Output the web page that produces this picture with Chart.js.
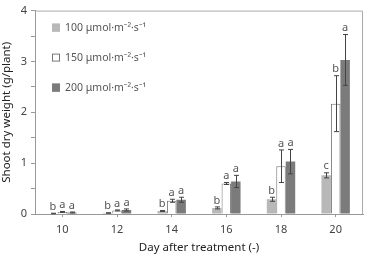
<!DOCTYPE html>
<html>
<head>
<meta charset="utf-8">
<script src="https://cdn.jsdelivr.net/npm/chart.js@4"></script>
<style>
  html, body { margin: 0; padding: 0; background: #fff; }
  #wrap { width: 365px; height: 255px; }
</style>
</head>
<body>
<div id="wrap"><canvas id="growthChart" width="365" height="255"></canvas></div>
<script>
const days = ['10', '12', '14', '16', '18', '20'];
const seriesNames = ['100 μmol·m⁻²·s⁻¹', '150 μmol·m⁻²·s⁻¹', '200 μmol·m⁻²·s⁻¹'];
const ppfd100 = [0.01, 0.02, 0.06, 0.12, 0.29, 0.76];
const ppfd150 = [0.04, 0.07, 0.26, 0.60, 0.94, 2.17];
const ppfd200 = [0.03, 0.08, 0.28, 0.64, 1.03, 3.03];
const err100 = [0.005, 0.005, 0.01, 0.02, 0.04, 0.05];
const err150 = [0.01, 0.01, 0.03, 0.02, 0.32, 0.55];
const err200 = [0.01, 0.02, 0.05, 0.12, 0.24, 0.50];
const letters100 = ['b', 'b', 'b', 'b', 'b', 'c'];
const letters150 = ['a', 'a', 'a', 'a', 'a', 'b'];
const letters200 = ['a', 'a', 'a', 'a', 'a', 'a'];

const fillColors = ['#b8b8b8', '#ffffff', '#7b7b7b'];
const edgeColors = ['#b8b8b8', '#777777', '#7b7b7b'];
const errs = [err100, err150, err200];
const letters = [letters100, letters150, letters200];

const txt = '#444';
const font = "'Noto Sans', 'DejaVu Sans', sans-serif";

// frame, error bars, significance letters, inline legend
const extras = {
  id: 'extras',
  afterDatasetsDraw(chart) {
    const ctx = chart.ctx;
    const a = chart.chartArea;
    const y = chart.scales.y;
    ctx.save();
    ctx.strokeStyle = '#aaaaaa';
    ctx.lineWidth = 1;
    ctx.beginPath();
    ctx.moveTo(a.left, a.top + 0.5);
    ctx.lineTo(a.right - 0.5, a.top + 0.5);
    ctx.lineTo(a.right - 0.5, a.bottom);
    ctx.stroke();

    chart.data.datasets.forEach((ds, i) => {
      const meta = chart.getDatasetMeta(i);
      meta.data.forEach((bar, j) => {
        const v = ds.data[j];
        const e = errs[i][j];
        const x = Math.round(bar.x) + 0.5;
        const yt = y.getPixelForValue(v + e);
        const yb = y.getPixelForValue(Math.max(v - e, 0));
        ctx.strokeStyle = '#444';
        ctx.beginPath();
        ctx.moveTo(x, yt); ctx.lineTo(x, yb);
        ctx.moveTo(x - 2.5, yt); ctx.lineTo(x + 2.5, yt);
        ctx.moveTo(x - 2.5, yb); ctx.lineTo(x + 2.5, yb);
        ctx.stroke();
        ctx.fillStyle = '#555';
        ctx.font = '11px ' + font;
        ctx.textAlign = 'center';
        ctx.textBaseline = 'bottom';
        ctx.fillText(letters[i][j], bar.x, yt - 1);
      });
    });

    ctx.font = '10.5px ' + font;
    ctx.textAlign = 'left';
    ctx.textBaseline = 'middle';
    seriesNames.forEach((name, i) => {
      const ly = a.top + 17 + i * 30;
      ctx.fillStyle = fillColors[i];
      ctx.fillRect(a.left + 17, ly - 4, 8, 8);
      ctx.strokeStyle = edgeColors[i];
      ctx.strokeRect(a.left + 17.5, ly - 3.5, 7, 7);
      ctx.fillStyle = '#555';
      ctx.fillText(name, a.left + 30, ly);
    });
    ctx.restore();
  }
};

const ctx = document.getElementById('growthChart').getContext('2d');
new Chart(ctx, {
  type: 'bar',
  data: {
    labels: days,
    datasets: [ppfd100, ppfd150, ppfd200].map((vals, i) => ({
      label: seriesNames[i],
      data: vals,
      backgroundColor: fillColors[i],
      borderColor: edgeColors[i],
      borderWidth: i === 1 ? 1 : 0,
      barPercentage: 1,
      categoryPercentage: 0.52
    }))
  },
  options: {
    responsive: false,
    animation: false,
    layout: { padding: { top: 6, right: 2, left: 0, bottom: 0 } },
    plugins: { legend: { display: false }, tooltip: { enabled: false } },
    scales: {
      x: {
        grid: { drawOnChartArea: false, tickLength: 3, color: '#999', offset: false },
        border: { color: '#999' },
        ticks: { color: txt, font: { family: font, size: 11 }, padding: 6 },
        title: { display: true, text: 'Day after treatment (-)', color: '#222', font: { family: font, size: 11.5 }, padding: { top: 9, bottom: 0 } },
        afterFit(s) { s.height = 41; }
      },
      y: {
        min: 0,
        max: 4,
        ticks: {
          stepSize: 0.5,
          color: txt,
          font: { family: font, size: 11 },
          padding: 4,
          callback: v => (Number.isInteger(v) ? v : '')
        },
        grid: { drawOnChartArea: false, tickLength: 4, color: '#999' },
        border: { color: '#999' },
        title: { display: true, text: 'Shoot dry weight (g/plant)', color: '#222', font: { family: font, size: 11.5 }, padding: { top: 0, bottom: 2 } },
        afterFit(s) { s.width = 35; }
      }
    }
  },
  plugins: [extras]
});
</script>
</body>
</html>
